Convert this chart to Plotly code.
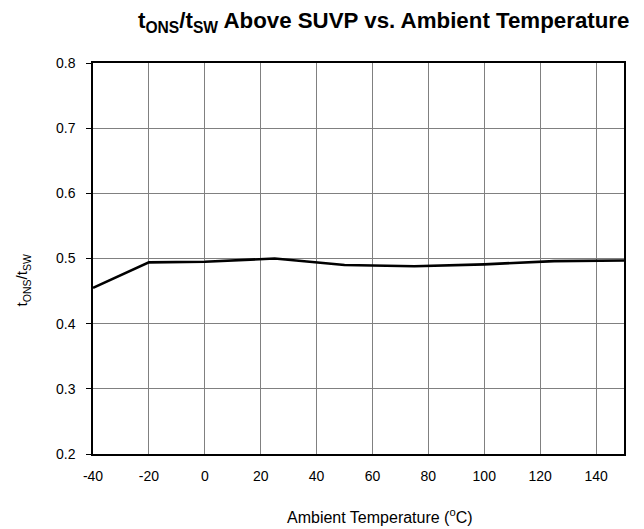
import plotly.graph_objects as go

temps = [-40, -20, 0, 25, 50, 75, 100, 125, 150]
ratio = [0.455, 0.494, 0.495, 0.500, 0.490, 0.488, 0.491, 0.496, 0.497]

x_ticks = [-40, -20, 0, 20, 40, 60, 80, 100, 120, 140]
y_ticks = [0.2, 0.3, 0.4, 0.5, 0.6, 0.7, 0.8]

FONT = "Liberation Sans, Arial, sans-serif"

fig = go.Figure()
fig.add_trace(go.Scatter(x=temps, y=ratio, mode="lines",
                         line=dict(color="black", width=2.6), showlegend=False))

fig.update_layout(
    width=636, height=521,
    margin=dict(l=85, r=20, t=55, b=75),
    paper_bgcolor="white", plot_bgcolor="white",
    font=dict(family=FONT, color="black", size=13),
    xaxis=dict(range=[-40, 150], tickvals=x_ticks, ticktext=[str(v) for v in x_ticks],
               showgrid=True, gridcolor="#808080", gridwidth=1,
               showline=True, linecolor="black", linewidth=1.5, mirror=True,
               ticks="", zeroline=False, tickfont=dict(size=14),
               ticklabelstandoff=8),
    yaxis=dict(range=[0.2, 0.8], tickvals=y_ticks, ticktext=[f"{v:.1f}" for v in y_ticks],
               showgrid=True, gridcolor="#808080", gridwidth=1,
               showline=True, linecolor="black", linewidth=1.5, mirror=True,
               ticks="outside", ticklen=5, tickcolor="black", zeroline=False,
               tickfont=dict(size=14), ticklabelstandoff=8),
    annotations=[
        dict(text="<b>t<sub>ONS</sub>/t<sub>SW</sub> Above SUVP vs. Ambient Temperature</b>",
             xref="paper", yref="paper", x=0.548, y=1.104, xanchor="center", yanchor="middle",
             showarrow=False, font=dict(size=22.3, family=FONT, color="black")),
        dict(text="t<sub>ONS</sub>/t<sub>SW</sub>",
             xref="paper", yref="paper", x=-0.133, y=0.445, xanchor="center", yanchor="middle",
             textangle=-90, showarrow=False, font=dict(size=15, family=FONT, color="black")),
        dict(text="Ambient Temperature (<sup>o</sup>C)",
             xref="paper", yref="paper", x=0.5405, y=-0.1586, xanchor="center", yanchor="middle",
             showarrow=False, font=dict(size=16, family=FONT, color="black")),
    ],
)

fig.write_html("out.html")
